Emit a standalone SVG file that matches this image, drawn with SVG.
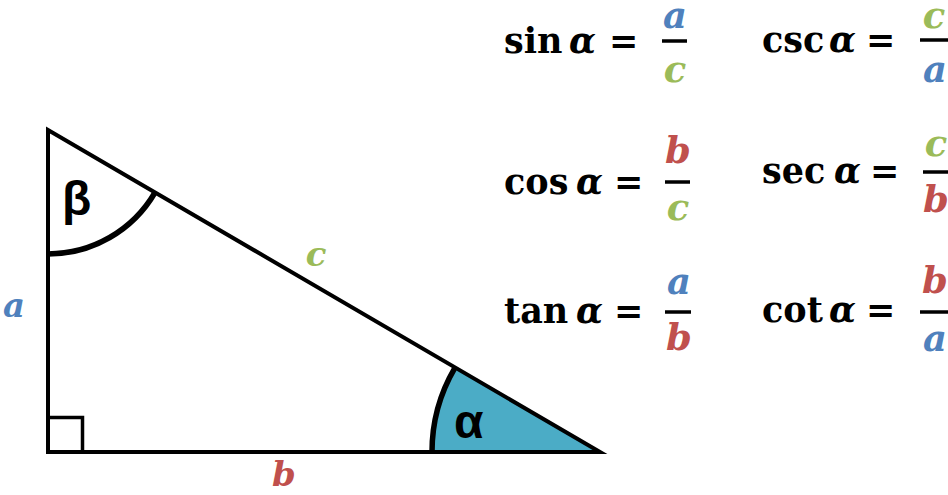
<svg xmlns="http://www.w3.org/2000/svg" width="948" height="495" viewBox="0 0 948 495">
<defs>
<style>
.eq{font-family:"DejaVu Serif","Liberation Serif",serif;font-weight:bold;font-size:35px;fill:#000}
.gr{font-style:italic}
.fr{font-family:"DejaVu Serif","Liberation Serif",serif;font-weight:bold;font-style:italic;font-size:37px;text-anchor:middle}
.lbl{font-family:"DejaVu Serif","Liberation Serif",serif;font-weight:bold;font-style:italic;font-size:34px;text-anchor:middle}
.ca{fill:#4F81BD}.cb{fill:#C0504D}.cc{fill:#9BBB59}
.bar{stroke:#000;stroke-width:3.5}
.ang{font-family:"Liberation Sans",Arial,sans-serif;font-weight:bold;fill:#000}
</style>
</defs>
<rect width="948" height="495" fill="#fff"/>
<g id="alpha-sector">
<path d="M598,452 L432,452 A166,166 0 0 1 454.6,368.3 Z" fill="#4BACC6"/>
<path d="M432,452 A166,166 0 0 1 454.6,368.3" fill="none" stroke="#000" stroke-width="5.5"/>
</g>
<g id="beta-arc">
<path d="M48,254 A124,124 0 0 0 155,192.5" fill="none" stroke="#000" stroke-width="5.5"/>
</g>
<g id="triangle">
<path d="M48,130 L48,452 L600,452 Z" fill="none" stroke="#000" stroke-width="4" stroke-linejoin="miter"/>
<path d="M48,417.5 L82.5,417.5 L82.5,452" fill="none" stroke="#000" stroke-width="3.5"/>
</g>
<g id="angle-labels">
<text class="ang" x="62" y="215" font-size="48">β</text>
<text class="ang" x="454" y="438" font-size="48">α</text>
</g>
<g id="side-labels">
<text class="lbl ca" x="14" y="317">a</text>
<text class="lbl cc" x="316" y="266">c</text>
<text class="lbl cb" x="284" y="486">b</text>
</g>
<g id="eq-sin">
<text class="eq" y="53"><tspan x="504">sin</tspan><tspan class="gr" x="569">α</tspan><tspan x="609">=</tspan></text>
<line class="bar" x1="662" y1="41" x2="687" y2="41"/>
<text class="fr ca" x="675" y="28">a</text>
<text class="fr cc" x="675" y="82">c</text>
</g>
<g id="eq-cos">
<text class="eq" y="194"><tspan x="504">cos</tspan><tspan class="gr" x="576">α</tspan><tspan x="614">=</tspan></text>
<line class="bar" x1="665" y1="182" x2="690" y2="182"/>
<text class="fr cb" x="678" y="163">b</text>
<text class="fr cc" x="678" y="220">c</text>
</g>
<g id="eq-tan">
<text class="eq" y="323"><tspan x="504">tan</tspan><tspan class="gr" x="576">α</tspan><tspan x="614">=</tspan></text>
<line class="bar" x1="665" y1="312" x2="691" y2="312"/>
<text class="fr ca" x="679" y="294">a</text>
<text class="fr cb" x="679" y="350">b</text>
</g>
<g id="eq-csc">
<text class="eq" y="52"><tspan x="762">csc</tspan><tspan class="gr" x="829">α</tspan><tspan x="866">=</tspan></text>
<line class="bar" x1="920" y1="40" x2="948" y2="40"/>
<text class="fr cc" x="934" y="28">c</text>
<text class="fr ca" x="935" y="82">a</text>
</g>
<g id="eq-sec">
<text class="eq" y="183"><tspan x="762">sec</tspan><tspan class="gr" x="834">α</tspan><tspan x="870">=</tspan></text>
<line class="bar" x1="923" y1="172" x2="948" y2="172"/>
<text class="fr cc" x="936" y="156">c</text>
<text class="fr cb" x="936" y="212">b</text>
</g>
<g id="eq-cot">
<text class="eq" y="322"><tspan x="762">cot</tspan><tspan class="gr" x="829">α</tspan><tspan x="866">=</tspan></text>
<line class="bar" x1="920" y1="312" x2="948" y2="312"/>
<text class="fr cb" x="935" y="293">b</text>
<text class="fr ca" x="935" y="351">a</text>
</g>
</svg>
